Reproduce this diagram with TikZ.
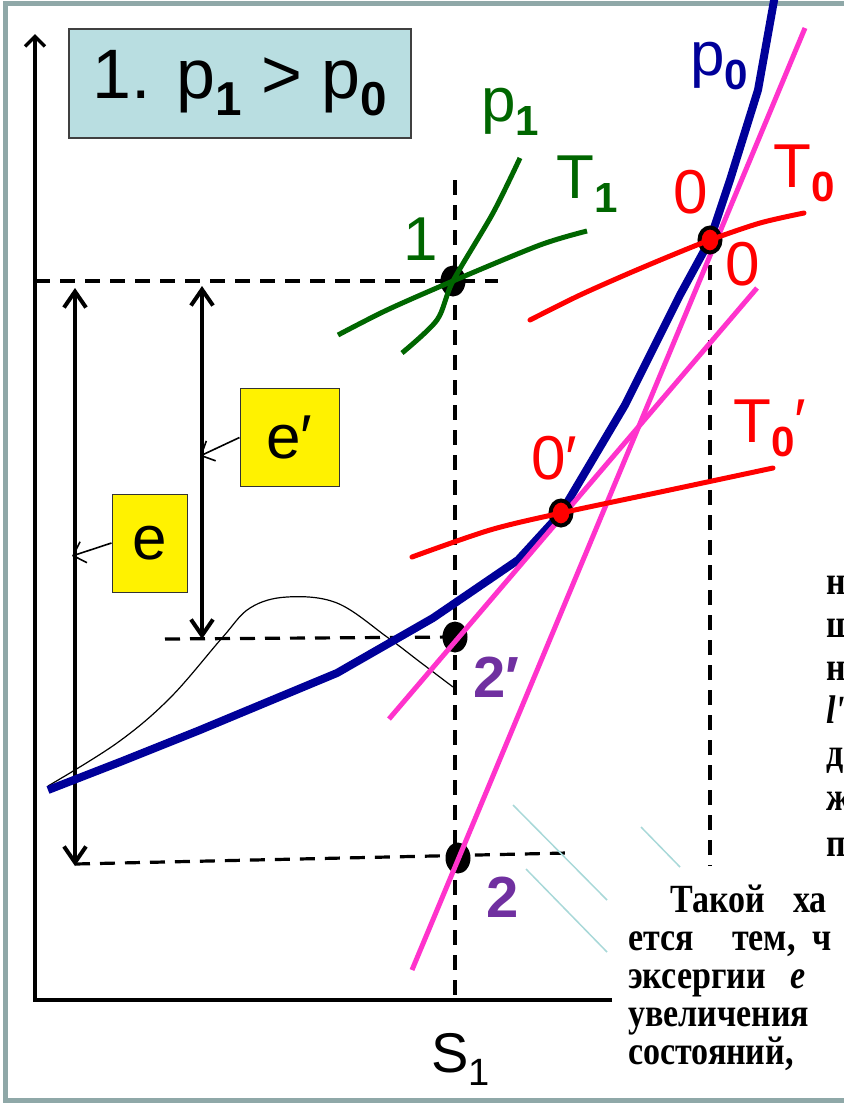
\documentclass[tikz,border=0pt]{standalone}
\usepackage{fontspec}
\setmainfont{Liberation Sans}
\newfontfamily\rusfont[FakeStretch=0.85]{Liberation Serif}
\usepackage{graphicx}
\usepackage{xcolor}
\definecolor{framegray}{RGB}{143,168,168}
\definecolor{titleblue}{RGB}{185,222,225}
\definecolor{isoblue}{RGB}{0,0,153}
\definecolor{tanpink}{RGB}{255,51,204}
\definecolor{isogreen}{RGB}{0,102,0}
\definecolor{ptpurple}{RGB}{112,48,160}
\definecolor{hatchcyan}{RGB}{168,216,216}
\usepackage{tikz}
\usetikzlibrary{arrows.meta,shapes.geometric}

\newcommand{\lsub}[1]{\raisebox{-0.24em}{\scalebox{0.68}{\bfseries #1}}}
\newcommand{\nsub}[1]{\raisebox{-0.24em}{\scalebox{0.68}{#1}}}

\tikzset{
  guide/.style={line width=3.2pt,dash pattern=on 15pt off 10pt},
  statept/.style={ellipse,fill=black,inner sep=0pt,minimum width=25pt,minimum height=31pt},
  zeropt/.style={ellipse,fill=red,draw=black,line width=4pt,inner sep=0pt,minimum width=21pt,minimum height=25pt},
  ebar/.style={line width=4pt,{Straight Barb[length=16pt,width=22pt]}-{Straight Barb[length=16pt,width=22pt]}},
  elink/.style={line width=1.6pt,-{Straight Barb[length=11pt,width=22pt]}},
  ebox/.style={fill=yellow,draw=black!80,line width=1pt,inner sep=0pt,font=\fontsize{62}{62}\selectfont},
  lbl/.style={inner sep=0pt,anchor=base west,font=\fontsize{62}{62}\selectfont},
  ptlbl/.style={inner sep=0pt,anchor=base west,text=ptpurple,font=\bfseries\fontsize{58}{58}\selectfont},
  rus/.style={inner sep=0pt,anchor=base west,font=\rusfont\bfseries\fontsize{40}{40}\selectfont}
}

\begin{document}
\begin{tikzpicture}[x=1pt,y=-1pt]
  \useasboundingbox (0,0) rectangle (844,1104);
  \clip (0,0) rectangle (844,1104);
  \draw[framegray,line width=5pt] (5,3.5) rectangle (900,1100);

  \coordinate (origin) at (35,1000);
  \coordinate (ytip) at (35,34);
  \coordinate (xend) at (612,1000);
  \coordinate (s1top) at (455,180);
  \coordinate (h1left) at (35,281);
  \coordinate (h1right) at (498,281);
  \coordinate (h2left) at (165,639);
  \coordinate (h3left) at (75,864);
  \coordinate (h3right) at (567,853);
  \coordinate (s0bot) at (710,866);
  \coordinate (pt0) at (710,240);
  \coordinate (pt0p) at (561,513);
  \coordinate (etop) at (75,288);
  \coordinate (ebot) at (75,866);
  \coordinate (eptop) at (202,286);
  \coordinate (epbot) at (202,639);

  \node[statept] (pt1) at (453,281) {};
  \node[statept] (pt2p) at (455,637) {};
  \node[statept] (pt2) at (458,858) {};

  \draw[guide] (s1top) -- (origin -| s1top);
  \draw[guide] (h1left) -- (h1right);
  \draw[guide] (h2left) -- (pt2p.center);
  \draw[guide] (pt0) -- (s0bot);
  \draw[guide] (h3left) -- (h3right);

  \draw[line width=3.5pt,-{Straight Barb[length=10pt,width=20pt]}] (xend) -- (origin) -- (ytip);

  \node[fill=titleblue,draw=black!75,line width=1.5pt,minimum width=342pt,minimum height=109pt,
    inner sep=0pt,font=\fontsize{70}{70}\selectfont] (title) at (240,83.5) {1. p\lsub{1} > p\lsub{0}};

  \draw[ebar] (etop) -- (ebot);
  \draw[ebar] (eptop) -- (epbot);
  \node[ebox,minimum width=99pt,minimum height=98pt] (eprime) at (289.5,437.5) {e′};
  \node[ebox,minimum width=75pt,minimum height=98pt] (ebx) at (149.5,543) {e};
  \draw[elink] (eprime.west) -- (200,456);
  \draw[elink] (ebx.west) -- (72,556);

  \draw[line width=1.2pt] plot[smooth,tension=0.6] coordinates {(48,786) (117,743) (170,698) (222,638) (250,608) (287,597) (337,603) (387,637) (420,662) (453,687)};

  \draw[hatchcyan,line width=1.5pt] (513,805) -- (607,900);
  \draw[hatchcyan,line width=1.5pt] (526,869) -- (607,952);
  \draw[hatchcyan,line width=1.5pt] (641,827) -- (680,867);

  \draw[isoblue,line width=8pt,line join=round] (48,790) -- (120,762) -- (200,730) -- (337,673) -- (433,618) -- (518,560)
    -- (pt0p) -- (625,405) -- (680,295) -- (pt0) -- (730,180) -- (758,90) -- (775,-5);
  \draw[tanpink,line width=5pt] (805,28) -- (412,970);
  \draw[tanpink,line width=5pt] (757,288) -- (389,719);

  \node[zeropt] (pt0dot) at (pt0) {};
  \node[zeropt] (pt0pdot) at (pt0p) {};

  \draw[red,line width=5pt,line cap=round] plot[smooth] coordinates {(530,320) (578,296) (625,275) (670,256) (710,240) (760,223) (804,213)};
  \draw[red,line width=5pt,line cap=round] plot[smooth,tension=0.5] coordinates {(412,557) (490,530) (561,513) (665,491) (773,468)};
  \draw[isogreen,line width=5pt] plot[smooth] coordinates {(402,353) (437,320) (453,281) (493,213) (520,158)};
  \draw[isogreen,line width=5pt] plot[smooth] coordinates {(338,335) (387,310) (453,281) (540,245) (587,231)};

  \node[lbl,text=isoblue] (lp0) at (690,75) {p\lsub{0}};
  \node[lbl,text=red] (lt0) at (773,187) {T\lsub{0}};
  \node[lbl,text=red] (l0a) at (673,213) {0};
  \node[lbl,text=red] (l0b) at (725,285) {0};
  \node[lbl,text=red] (l0p) at (531,479) {0′};
  \node[lbl,text=red] (lt0p) at (733,442) {T\lsub{0}′};
  \node[lbl,text=isogreen] (lp1) at (481,121) {p\lsub{1}};
  \node[lbl,text=isogreen] (lt1) at (556,198) {T\lsub{1}};
  \node[lbl,text=isogreen] (l1) at (403,260) {1};
  \node[ptlbl] (l2p) at (473,697) {2′};
  \node[ptlbl] (l2) at (486,917) {2};
  \node[lbl,font=\fontsize{56}{56}\selectfont] (ls1) at (431,1072) {S\nsub{1}};

  \node[rus] (c1) at (826,594) {н};
  \node[rus] (c2) at (826,637) {ш};
  \node[rus] (c3) at (826,680) {н};
  \node[rus] (c4) at (826,723) {\itshape l'};
  \node[rus] (c5) at (826,766) {д};
  \node[rus] (c6) at (826,810) {ж};
  \node[rus] (c7) at (826,856) {п};
  \node[rus] (r1a) at (670,912) {Такой};
  \node[rus] (r1b) at (793,912) {ха};
  \node[rus] (r2a) at (628,950) {ется};
  \node[rus] (r2b) at (732,950) {тем,};
  \node[rus] (r2c) at (812,950) {ч};
  \node[rus] (r3a) at (628,988) {эксергии};
  \node[rus] (r3b) at (790,988) {\itshape e};
  \node[rus] (r4) at (628,1026) {увеличения};
  \node[rus] (r5) at (628,1064) {состояний,};
\end{tikzpicture}
\end{document}
